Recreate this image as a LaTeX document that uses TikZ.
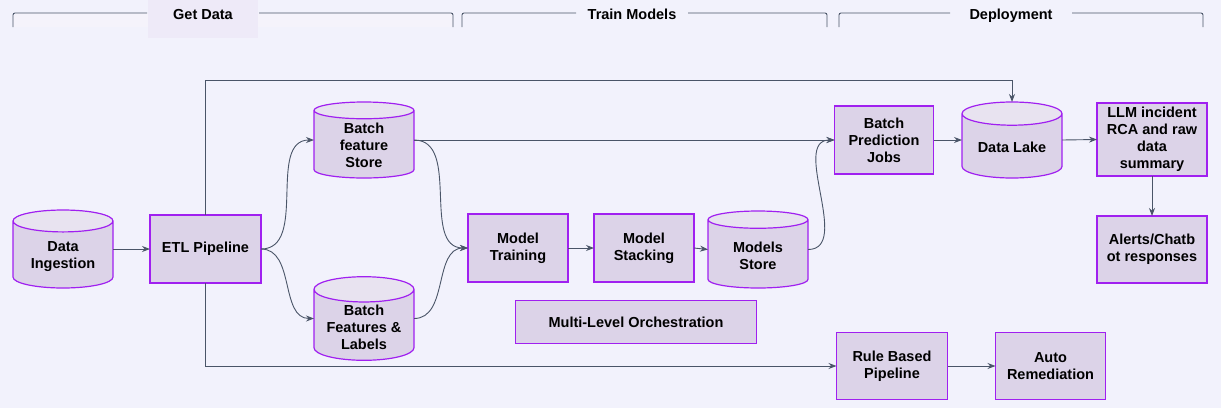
\documentclass[tikz,border=0pt]{standalone}
\usepackage{fontspec}
\setmainfont{Liberation Sans}
\usepackage{xcolor}
\usepackage{tikz}
\usetikzlibrary{shapes.geometric, arrows.meta, positioning, calc}
\definecolor{canvas}{HTML}{F2F2FC}
\definecolor{boxfill}{HTML}{DCD3E8}
\definecolor{capfill}{HTML}{E8E3F0}
\definecolor{boxline}{HTML}{A020F0}
\definecolor{wire}{HTML}{4A5568}
\definecolor{hdrbg}{HTML}{EEEAF8}

\begin{document}
\begin{tikzpicture}[
  x=1pt, y=-1pt,
  font=\fontsize{14.5}{17}\selectfont\bfseries,
  proc/.style={rectangle, draw=boxline, fill=boxfill, line width=1.2pt,
               align=center, inner sep=2pt, outer sep=0pt},
  store/.style={cylinder, shape border rotate=90, aspect=0.32, draw=boxline,
                line width=1.2pt, cylinder uses custom fill,
                cylinder body fill=boxfill, cylinder end fill=capfill,
                minimum width=100pt, minimum height=78pt, anchor=shape center,
                align=center, inner sep=2pt, outer sep=0pt},
  arr/.style={-{Stealth[length=8pt,width=6pt]}, wire, line width=0.9pt},
  hdr/.style={wire, line width=0.9pt, rounded corners=2pt},
  stage/.style={inner sep=0pt, anchor=base}
]
  \fill[canvas] (0,0) rectangle (1221,408);
  \useasboundingbox (0,0) rectangle (1221,408);

  % stage headers
  \fill[hdrbg!60] (13,13) rectangle (453,27);
  \fill[hdrbg] (148,0) rectangle (258,38);
  \node[stage] (hget) at (203,19) {Get Data};
  \node[stage] (htrain) at (632,19) {Train Models};
  \node[stage] (hdeploy) at (1011,19) {Deployment};
  \draw[hdr] (13,27) |- (147,13);
  \draw[hdr] (259,13) -| (453,27);
  \draw[hdr] (462,27) |- (576,13);
  \draw[hdr] (688,13) -| (827,27);
  \draw[hdr] (839,27) |- (950,13);
  \draw[hdr] (1072,13) -| (1203,27);

  % get data
  \node[store] (ing) at (63,249) {Data\\Ingestion};
  \node[proc, minimum width=111pt, minimum height=68pt] (etl) at (205.5,249) {ETL Pipeline};
  \node[store, minimum height=76pt] (bfs) at (364,140) {Batch\\feature\\Store};
  \node[store, minimum height=77pt] (bfl) at (364,318.5) {Batch\\Features \&\\Labels};

  % train models
  \node[proc, minimum width=100pt, minimum height=68pt] (train) at (518,248) {Model\\Training};
  \node[proc, minimum width=100pt, minimum height=68pt, right=26pt of train] (stack) {Model\\Stacking};
  \node[store, minimum height=77pt] (mstore) at (758,249.5) {Models\\Store};
  \node[proc, minimum width=241pt, minimum height=43pt] (orch) at (636,322) {Multi-Level Orchestration};

  % deployment
  \node[proc, minimum width=99pt, minimum height=68pt] (bpj) at (884,140) {Batch\\Prediction\\Jobs};
  \node[store, minimum height=76pt] (lake) at (1012,140) {Data Lake};
  \node[proc, minimum width=110pt, minimum height=73pt] (llm) at (1152,139.5) {LLM incident\\RCA and raw\\data\\summary};
  \node[proc, minimum width=110pt, minimum height=67pt, below=40pt of llm] (alert) {Alerts/Chatb\\ot responses};
  \node[proc, minimum width=111pt, minimum height=67pt] (rule) at (892,366) {Rule Based\\Pipeline};
  \node[proc, minimum width=110pt, minimum height=67pt, right=48pt of rule] (auto) {Auto\\Remediation};

  \coordinate (topbus) at (0,80);

  \draw[arr] (ing.shape center -| ing.east) -- (etl.west);
  \draw[arr] (etl.east) to[out=0, in=180] (bfs.shape center -| bfs.west);
  \draw[arr] (etl.east) to[out=0, in=180] (bfl.shape center -| bfl.west);
  \draw[arr] (bfs.shape center -| bfs.east) to[out=0, in=180] (train.west);
  \draw[arr] (bfl.shape center -| bfl.east) to[out=0, in=180] (train.west);
  \draw[arr] (bfs.shape center -| bfs.east) -- (bpj.west);
  \draw[arr] (train) -- (stack);
  \draw[arr] (stack.east) -- (mstore.shape center -| mstore.west);
  \draw[arr] (mstore.shape center -| mstore.east) to[out=0, in=180] (bpj.west);
  \draw[arr] (bpj.east) -- (lake.shape center -| lake.west);
  \draw[arr] (lake.shape center -| lake.east) -- (llm.west);
  \draw[arr] (llm) -- (alert);
  \draw[arr] (etl.north) -- (etl.north |- topbus) -| (lake.north);
  \draw[arr] (etl.south) |- (rule.west);
  \draw[arr] (rule) -- (auto);
\end{tikzpicture}
\end{document}
